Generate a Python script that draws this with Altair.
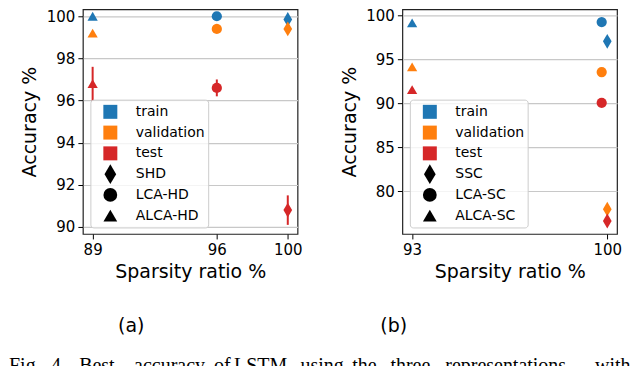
import altair as alt
import pandas as pd

# ---------------- data ----------------
splits = ["train", "validation", "test"]
split_colors = ["#1f77b4", "#ff7f0e", "#d62728"]

reps_a = ["SHD", "LCA-HD", "ALCA-HD"]
sparsity_a = [100, 96, 89]
train_a = [99.85, 100.0, 100.0]
val_a = [99.4, 99.4, 99.2]
test_a = [90.8, 96.6, 96.8]
train_err_a = [0.1, 0.0, 0.0]
val_err_a = [0.15, 0.0, 0.0]
test_err_a = [0.7, 0.4, 0.8]

reps_b = ["SSC", "LCA-SC", "ALCA-SC"]
sparsity_b = [100, 99.8, 93]
train_b = [97.05, 99.25, 99.15]
val_b = [77.95, 93.55, 94.15]
test_b = [76.6, 90.05, 91.55]
train_err_b = [0.0, 0.0, 0.0]
val_err_b = [0.0, 0.0, 0.0]
test_err_b = [0.0, 0.0, 0.0]

xticks_a = [89, 96, 100]
yticks_a = [90, 92, 94, 96, 98, 100]
xticks_b = [93, 100]
yticks_b = [80, 85, 90, 95, 100]

caption_words = ["Fig.", "4.", "Best", "accuracy", "of", "LSTM", "using",
                 "the", "three", "representations", "with"]
caption_x = [8, 50, 78.3, 133.3, 213.3, 233.3, 300, 351.7, 390, 445, 595]

DIAMOND = "M0,-1.45L0.85,0L0,1.45L-0.85,0Z"
shape_range = [DIAMOND, "circle", "triangle-up"]


def long_df(reps, sp, tr, va, te, tre, vae, tee):
    rows = []
    for i, r in enumerate(reps):
        for s, v, e in zip(splits, [tr[i], va[i], te[i]], [tre[i], vae[i], tee[i]]):
            rows.append({"rep": r, "sparsity": sp[i], "split": s, "split_e": s,
                         "acc": v, "lo": v - e, "hi": v + e})
    return pd.DataFrame(rows)


df_a = long_df(reps_a, sparsity_a, train_a, val_a, test_a,
               train_err_a, val_err_a, test_err_a)
df_b = long_df(reps_b, sparsity_b, train_b, val_b, test_b,
               train_err_b, val_err_b, test_err_b)
one = pd.DataFrame({"k": [0]})

PLOT_LEFT_A = 82
PLOT_TOP = 8
LEG_ROW0 = 110.7 - PLOT_TOP
LEG_PITCH = 20.8


def legend_layers(reps):
    layers = [alt.Chart(one).mark_rect(
        fill="white", fillOpacity=0.8, stroke="#cccccc", strokeWidth=1,
        cornerRadius=3).encode(x=alt.value(8), x2=alt.value(126),
                               y=alt.value(91), y2=alt.value(219))]
    entries = [(s, "square", c, 196) for s, c in zip(splits, split_colors)]
    entries += [(r, sh, "black", 190) for r, sh in zip(reps, shape_range)]
    for i, (lab, sh, col, sz) in enumerate(entries):
        cy = LEG_ROW0 + i * LEG_PITCH
        layers.append(alt.Chart(one).mark_point(
            shape=sh, filled=True, size=sz, color=col, opacity=1).encode(
            x=alt.value(27.5), y=alt.value(cy)))
        layers.append(alt.Chart(one).mark_text(
            text=lab, font="DejaVu Sans", fontSize=14, align="left",
            baseline="middle", color="black").encode(
            x=alt.value(53), y=alt.value(cy)))
    return layers


def panel(df, reps, xdom, ydom, xticks, yticks, extras):
    xs = alt.Scale(domain=xdom, nice=False, zero=False)
    ys = alt.Scale(domain=ydom, nice=False, zero=False)
    xax = alt.Axis(values=xticks, title="Sparsity ratio %", grid=False,
                   format="d", titleY=44, titleBaseline="alphabetic")
    yax = alt.Axis(values=yticks, title="Accuracy %", grid=True,
                   format="d", titleX=-47, titleBaseline="alphabetic")
    x = alt.X("sparsity:Q", scale=xs, axis=xax)
    color = alt.Color("split:N", scale=alt.Scale(domain=splits, range=split_colors),
                      legend=None)
    shape = alt.Shape("rep:N", scale=alt.Scale(domain=reps, range=shape_range),
                      legend=None)
    stroke = alt.Stroke("split_e:N", scale=alt.Scale(domain=splits, range=split_colors),
                        legend=None)
    base = alt.Chart(df)
    rules = base.mark_rule(strokeWidth=2).encode(
        x=x, y=alt.Y("lo:Q", scale=ys, axis=yax), y2="hi:Q", stroke=stroke)
    pts = base.mark_point(filled=True, size=105, opacity=1).encode(
        x=x, y=alt.Y("acc:Q", scale=ys, axis=yax), color=color, shape=shape)
    return alt.layer(rules, pts, *legend_layers(reps), *extras).properties(
        width=215, height=225)


extras_a = []
for w, cx in zip(caption_words, caption_x):
    extras_a.append(alt.Chart(one).mark_text(
        text=w, font="Liberation Serif", fontSize=20, align="left",
        baseline="alphabetic", color="black").encode(
        x=alt.value(cx - PLOT_LEFT_A), y=alt.value(371 - PLOT_TOP)))
extras_a.append(alt.Chart(one).mark_text(
    text="(a)", font="DejaVu Sans", fontSize=19, align="center",
    baseline="middle", color="black").encode(
    x=alt.value(130.5 - PLOT_LEFT_A), y=alt.value(325 - PLOT_TOP)))
extras_a.append(alt.Chart(one).mark_text(
    text="(b)", font="DejaVu Sans", fontSize=19, align="center",
    baseline="middle", color="black").encode(
    x=alt.value(393.3 - PLOT_LEFT_A), y=alt.value(325 - PLOT_TOP)))

pa = panel(df_a, reps_a, [88.45, 100.55], [89.67, 100.33], xticks_a, yticks_a, extras_a)
pb = panel(df_b, reps_b, [92.65, 100.35], [75.13, 100.7], xticks_b, yticks_b, [])

chart = alt.hconcat(pa, pb, spacing=105, bounds="flush").resolve_scale(
    color="independent", shape="independent", stroke="independent",
    x="independent", y="independent"
).properties(
    padding={"left": 0, "top": -1, "right": 0, "bottom": 0}
).configure_view(stroke="#222222", strokeWidth=1.2).configure_axis(
    domain=False, tickColor="black", tickSize=5, tickWidth=1,
    labelColor="black", labelFontSize=15, labelFont="DejaVu Sans",
    titleFont="DejaVu Sans", titleFontSize=19, titleFontWeight="normal",
    titleColor="black", gridColor="#c8c8c8", gridWidth=1.2
).configure_axisX(labelPadding=4).configure_axisY(labelPadding=3)

chart.save("out.html", embed_options={"renderer": "svg", "actions": False})
